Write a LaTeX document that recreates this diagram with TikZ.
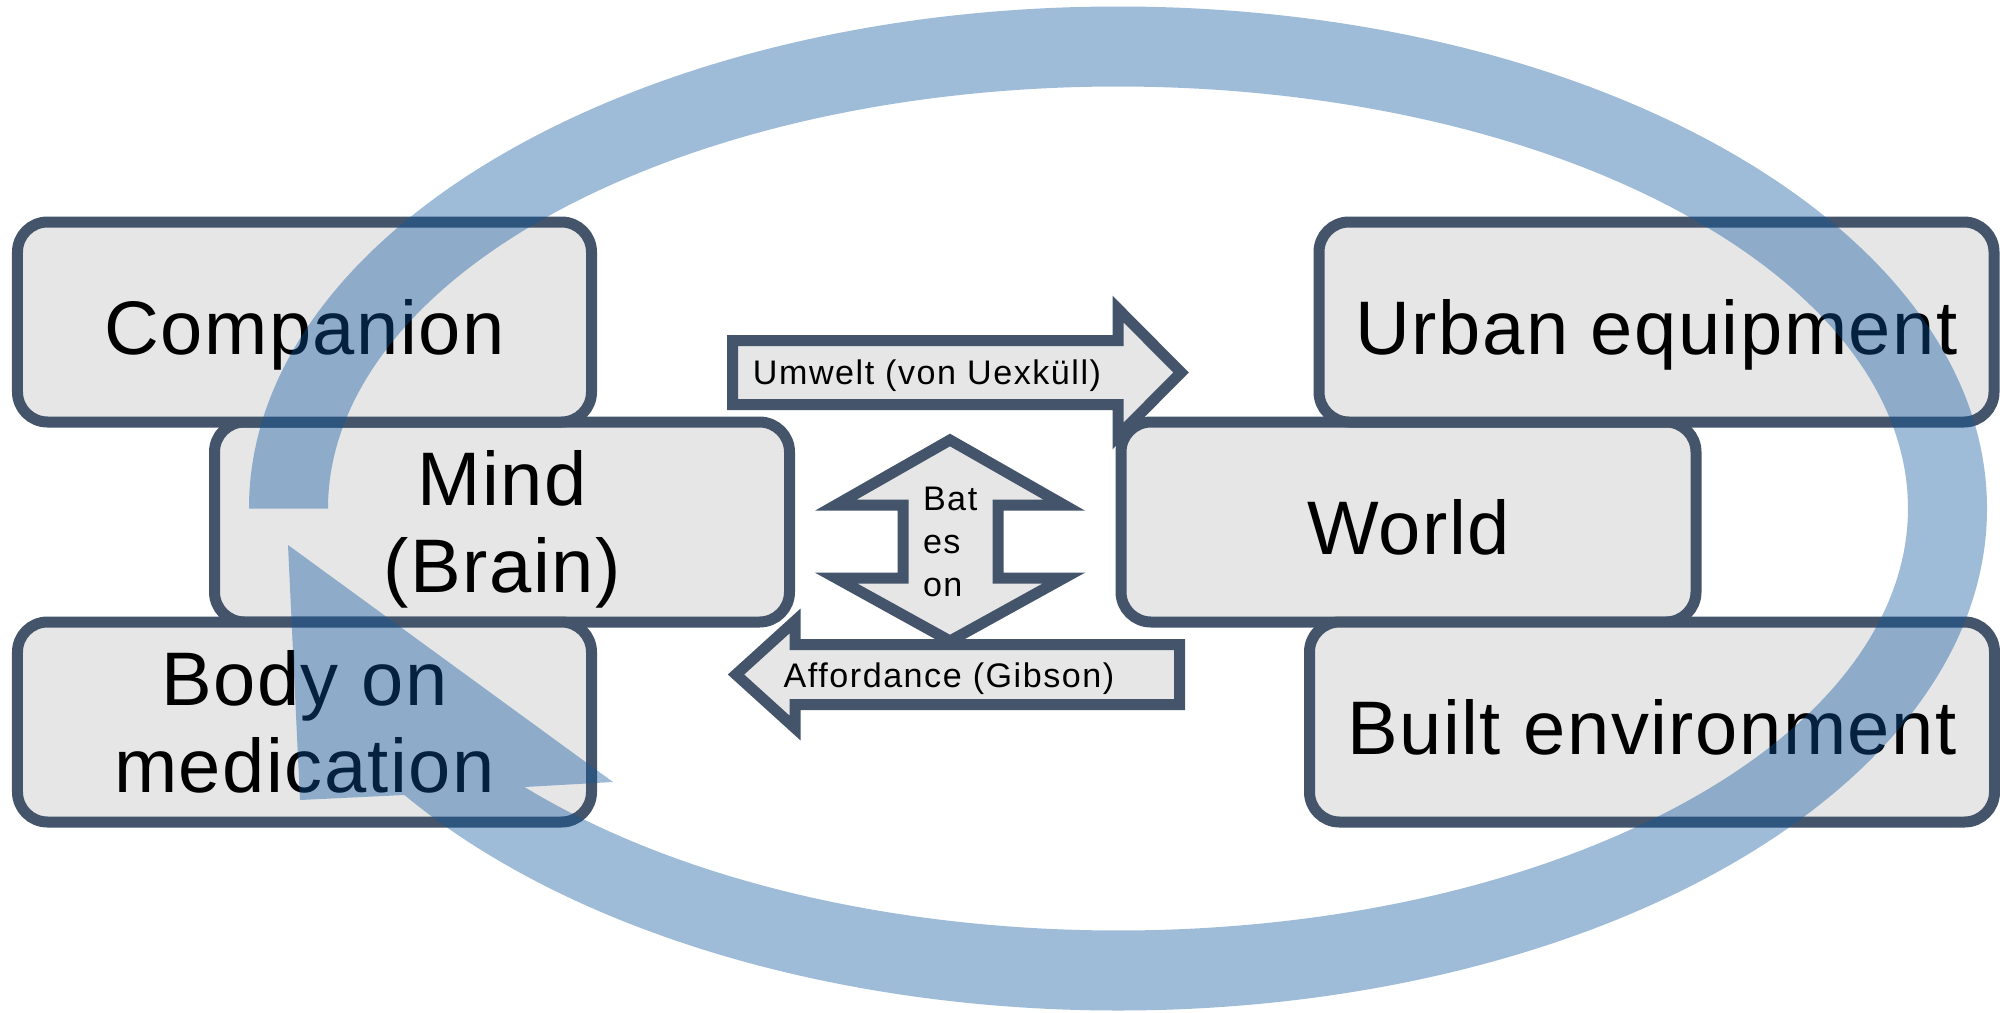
\documentclass[tikz,border=0pt]{standalone}
\usepackage{fontspec}
\setmainfont{Liberation Sans}
\newfontfamily\boxfont[LetterSpace=2]{Liberation Sans}
\newfontfamily\tagfont[LetterSpace=4.5]{Liberation Sans}
\usetikzlibrary{positioning}
\definecolor{boxline}{RGB}{68,84,106}
\definecolor{boxfill}{RGB}{230,230,230}
\definecolor{loopblue}{RGB}{12,87,158}
\tikzset{every node/.style={inner sep=0pt, outer sep=0pt}}
\tikzset{box/.style={draw=boxline, fill=boxfill, line width=0.11cm, rounded corners=0.3cm, minimum height=2cm, align=center, font=\boxfont\fontsize{21.6}{24.7}\selectfont}}
\tikzset{oneline/.style={text height=0.64cm, text depth=0pt}}
\tikzset{blockarrow/.style={draw=boxline, fill=boxfill, line width=0.11cm}}
\tikzset{tag/.style={font=\tagfont\fontsize{9.7}{12.2}\selectfont}}
\tikzset{loop/.style={fill=loopblue, opacity=0.4}}

\begin{document}
\begin{tikzpicture}
    \useasboundingbox (0,0) rectangle (20,10.12);

    % left column
    \node[box,minimum width=5.75cm] (mind) at (5.02,4.90) {\rule{0pt}{0.70cm}Mind\\(Brain)};
    \node[box,oneline,minimum width=5.74cm,above=0pt of mind,xshift=-1.975cm] (companion) {Companion};
    \node[box,minimum width=5.74cm,below=0pt of mind,xshift=-1.975cm] (body) {Body on\\medication};

    % right column
    \node[box,oneline,minimum width=5.75cm] (world) at (14.085,4.90) {World};
    \node[box,oneline,minimum width=6.75cm,above=0pt of world,xshift=2.48cm] (urban) {Urban equipment};
    \node[box,oneline,minimum width=6.85cm,below=0pt of world,xshift=2.435cm] (built) {Built environment};

    % block arrows in between
    \draw[blockarrow] (7.325,6.715) -- (11.18,6.715) -- (11.18,7.03) -- (11.81,6.395) -- (11.18,5.76) -- (11.18,6.075) -- (7.325,6.075) -- cycle;
    \node[tag,anchor=base] (umwelt) at (9.27,6.28) {Umwelt (von Uexküll)};

    \draw[blockarrow] (11.795,3.675) -- (7.95,3.675) -- (7.95,3.91) -- (7.36,3.375) -- (7.95,2.84) -- (7.95,3.075) -- (11.795,3.075) -- cycle;
    \node[tag,anchor=base] (affordance) at (9.49,3.25) {Affordance (Gibson)};

    \draw[blockarrow] (9.50,5.72) -- (10.64,5.07) -- (9.98,5.07) -- (9.98,4.34) -- (10.64,4.34) -- (9.50,3.71) -- (8.36,4.34) -- (9.03,4.34) -- (9.03,5.07) -- (8.36,5.07) -- cycle;
    \node[tag,anchor=north west,align=left] (bateson) at (9.23,5.25) {Bat\\es\\on};

    % the big loop on top
    \coordinate (hub) at (11.18,5.035);
    \fill[loop] ([shift={(hub)}]180:8.69 and 5.02) arc[start angle=180, end angle=-145.2, x radius=8.69, y radius=5.02]
        -- (3.00,2.12) -- (2.88,4.67) -- (6.13,2.30)
        -- ([shift={(hub)}]-138.7:7.90 and 4.22) arc[start angle=-138.7, end angle=180, x radius=7.90, y radius=4.22] -- cycle;

\end{tikzpicture}
\end{document}
